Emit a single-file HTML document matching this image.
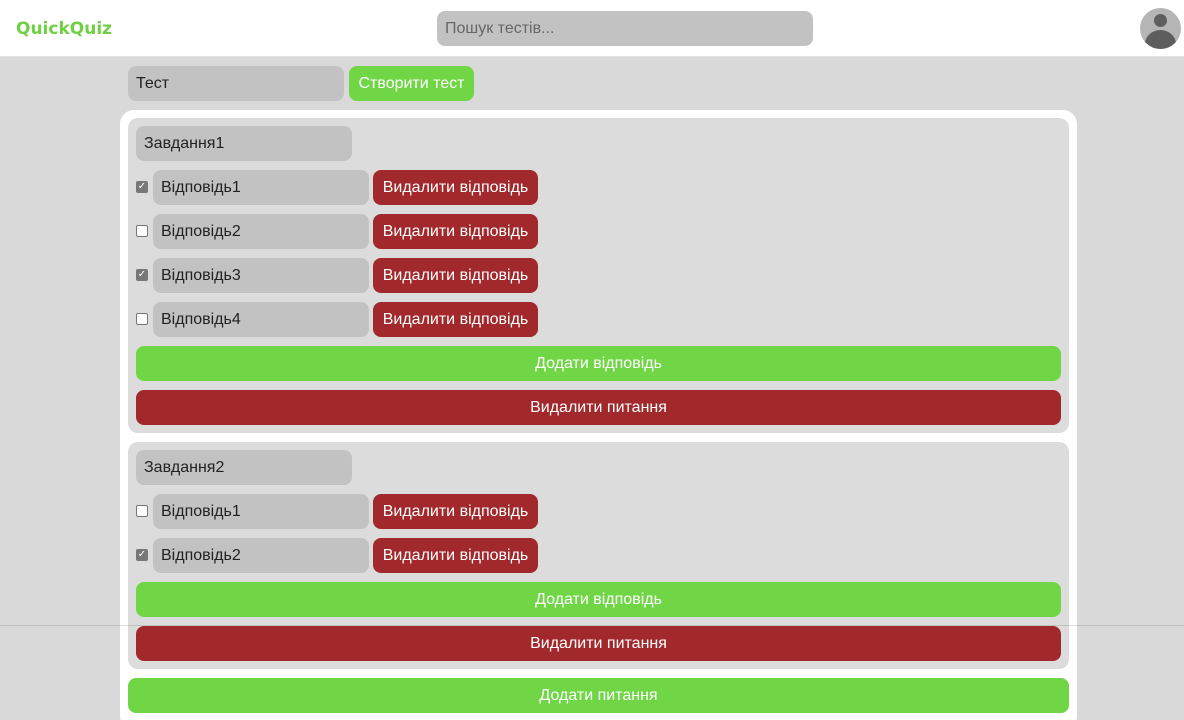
<!DOCTYPE html>
<html><head><meta charset="utf-8"><style>
*{box-sizing:border-box;margin:0;padding:0}
html,body{width:1184px;height:720px;overflow:hidden}
body{background:#d9d9d9;font-family:"Liberation Sans",sans-serif;position:relative}
.a{position:absolute}
.hdr{left:0;top:0;width:1184px;height:57px;background:#fff;border-bottom:1px solid #e4e4e4}
.logo{left:16px;top:19px;font-family:"DejaVu Sans",sans-serif;font-weight:bold;font-size:17px;color:#6fcf45}
.inp{background:#c2c2c2;border-radius:8px;font-size:16px;color:#222;padding-left:8px;display:flex;align-items:center}
.btn{border-radius:8px;font-size:16px;color:#fff;display:flex;align-items:center;justify-content:center}
.g{background:#70d646}.r{background:#a2292b}
.cb{width:12px;height:12px;border:1px solid #767676;border-radius:2px;background:#fff}
.cb.on{background:#777;border-color:#777;color:#fff;font-size:10px;line-height:10px;text-align:center}
.card{background:#dcdcdc;border-radius:10px}
</style></head><body>
<div class="a hdr"></div>
<div class="a logo">QuickQuiz</div>
<div class="a inp" style="left:437px;top:11px;width:376px;height:35px;color:#666">Пошук тестів...</div>
<div class="a" style="left:1140px;top:8px;width:41px;height:41px;border-radius:50%;background:#b5b5b5;overflow:hidden">
 <div class="a" style="left:14px;top:6px;width:13px;height:13px;border-radius:50%;background:#5e5e5e"></div>
 <div class="a" style="left:5px;top:22px;width:31px;height:28px;border-radius:50%;background:#5e5e5e"></div>
</div>
<div class="a inp" style="left:128px;top:66px;width:216px;height:35px">Тест</div>
<div class="a btn g" style="left:349px;top:66px;width:125px;height:35px">Створити тест</div>
<div class="a" style="left:120px;top:110px;width:957px;height:620px;background:#fff;border-radius:14px"></div>
<div class="a card" style="left:128px;top:118px;width:941px;height:315px"></div>
<div class="a card" style="left:128px;top:442px;width:941px;height:227px"></div>
<div class="a inp" style="left:136px;top:126px;width:216px;height:35px">Завдання1</div>
<div class="a inp" style="left:136px;top:450px;width:216px;height:35px">Завдання2</div>

<div class="a cb on" style="left:136px;top:181px">✓</div><div class="a inp" style="left:153px;top:170px;width:216px;height:35px">Відповідь1</div><div class="a btn r" style="left:373px;top:170px;width:165px;height:35px">Видалити відповідь</div>
<div class="a cb" style="left:136px;top:225px"></div><div class="a inp" style="left:153px;top:214px;width:216px;height:35px">Відповідь2</div><div class="a btn r" style="left:373px;top:214px;width:165px;height:35px">Видалити відповідь</div>
<div class="a cb on" style="left:136px;top:269px">✓</div><div class="a inp" style="left:153px;top:258px;width:216px;height:35px">Відповідь3</div><div class="a btn r" style="left:373px;top:258px;width:165px;height:35px">Видалити відповідь</div>
<div class="a cb" style="left:136px;top:313px"></div><div class="a inp" style="left:153px;top:302px;width:216px;height:35px">Відповідь4</div><div class="a btn r" style="left:373px;top:302px;width:165px;height:35px">Видалити відповідь</div>
<div class="a btn g" style="left:136px;top:346px;width:925px;height:35px">Додати відповідь</div>
<div class="a btn r" style="left:136px;top:390px;width:925px;height:35px">Видалити питання</div>

<div class="a cb" style="left:136px;top:505px"></div><div class="a inp" style="left:153px;top:494px;width:216px;height:35px">Відповідь1</div><div class="a btn r" style="left:373px;top:494px;width:165px;height:35px">Видалити відповідь</div>
<div class="a cb on" style="left:136px;top:549px">✓</div><div class="a inp" style="left:153px;top:538px;width:216px;height:35px">Відповідь2</div><div class="a btn r" style="left:373px;top:538px;width:165px;height:35px">Видалити відповідь</div>
<div class="a btn g" style="left:136px;top:582px;width:925px;height:35px">Додати відповідь</div>
<div class="a btn r" style="left:136px;top:626px;width:925px;height:35px">Видалити питання</div>
<div class="a btn g" style="left:128px;top:678px;width:941px;height:35px">Додати питання</div>
<div class="a" style="left:0;top:625px;width:1184px;height:1px;background:rgba(0,0,0,0.12)"></div>
</body></html>
